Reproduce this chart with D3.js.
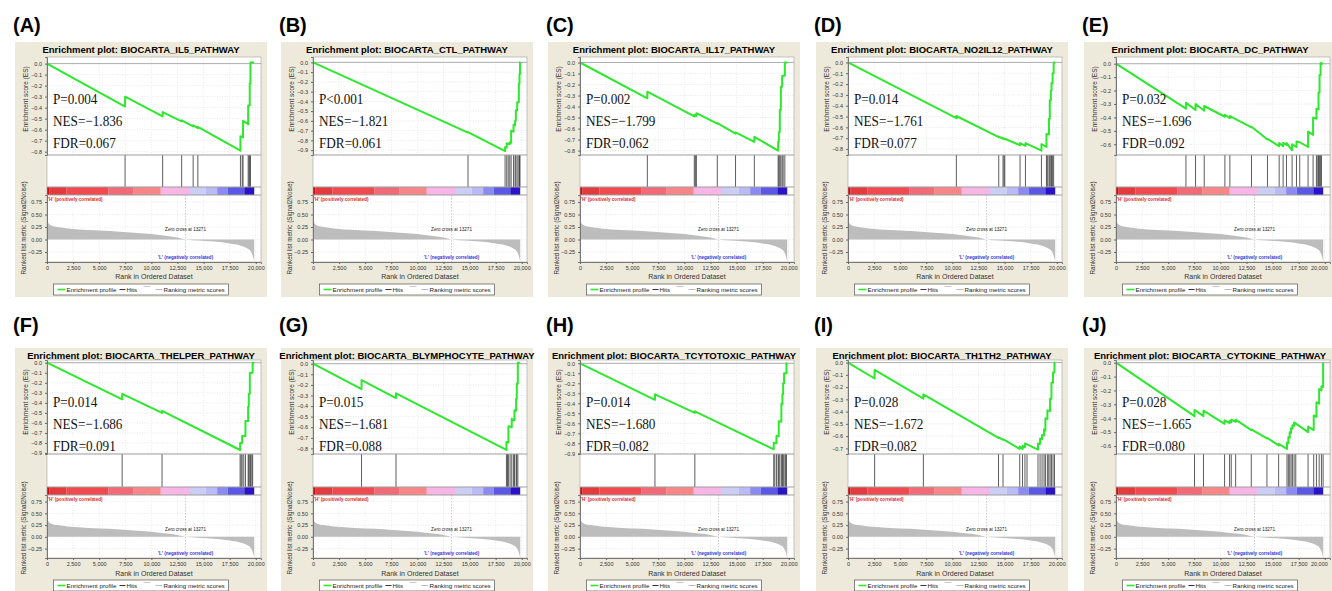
<!DOCTYPE html>
<html><head><meta charset="utf-8">
<script src="https://cdn.jsdelivr.net/npm/d3@7/dist/d3.min.js"></script>
<style>
body{margin:0;background:#fff;}
svg{display:block;font-family:Arial,"Liberation Sans",sans-serif;}
</style></head>
<body><svg id="chart" width="1332" height="591"></svg>
<script>
// ---- panel identity and statistics
const panelLetters = ["A","B","C","D","E","F","G","H","I","J"];
const pathwayNames = ["BIOCARTA_IL5_PATHWAY","BIOCARTA_CTL_PATHWAY","BIOCARTA_IL17_PATHWAY","BIOCARTA_NO2IL12_PATHWAY","BIOCARTA_DC_PATHWAY",
  "BIOCARTA_THELPER_PATHWAY","BIOCARTA_BLYMPHOCYTE_PATHWAY","BIOCARTA_TCYTOTOXIC_PATHWAY","BIOCARTA_TH1TH2_PATHWAY","BIOCARTA_CYTOKINE_PATHWAY"];
const pLabels = ["P=0.004","P<0.001","P=0.002","P=0.014","P=0.032","P=0.014","P=0.015","P=0.014","P=0.028","P=0.028"];
const nesValues = [-1.836,-1.821,-1.799,-1.761,-1.696,-1.686,-1.681,-1.680,-1.672,-1.665];
const fdrValues = [0.067,0.061,0.062,0.077,0.092,0.091,0.088,0.082,0.082,0.080];

// ES axis: lowest labelled tick and visible range per panel
const esMinTicks = [-0.8,-0.9,-0.8,-0.8,-0.6,-0.9,-0.8,-0.9,-0.7,-0.6];
const esDomains = [[-0.83,0.06],[-0.95,0.055],[-0.84,0.05],[-0.855,0.05],[-0.68,0.05],
  [-0.91,0.027],[-0.853,0.035],[-0.907,0.033],[-0.746,0.021],[-0.657,0.019]];

// ---- running enrichment score, [rank, ES]
const esCurveA = [[0,0],[7480,-0.39],[7480,-0.30],[11080,-0.48],[11080,-0.44],[12900,-0.525],[12900,-0.515],[14000,-0.57],[14000,-0.56],[14450,-0.585],[14450,-0.575],[18530,-0.79],[18530,-0.66],[18780,-0.67],[18780,-0.52],[19270,-0.55],[19270,-0.38],[19420,-0.38],[19420,-0.18],[19490,-0.18],[19490,0.01],[19850,0.01]];
const esCurveB = [[0,0],[14850,-0.72],[14850,-0.715],[18400,-0.91],[18400,-0.87],[18560,-0.875],[18560,-0.83],[18850,-0.84],[18850,-0.82],[18980,-0.825],[18980,-0.70],[19210,-0.71],[19210,-0.64],[19360,-0.645],[19360,-0.60],[19430,-0.60],[19430,-0.49],[19560,-0.49],[19560,-0.41],[19720,-0.41],[19720,-0.22],[19780,-0.22],[19780,-0.12],[19830,-0.12],[19830,0.0],[19850,0.0]];
const esCurveC = [[0,0],[6450,-0.325],[6450,-0.265],[10950,-0.49],[10950,-0.475],[11150,-0.485],[11150,-0.46],[13150,-0.555],[13150,-0.55],[14900,-0.645],[14900,-0.635],[16700,-0.72],[16700,-0.675],[18980,-0.80],[18980,-0.72],[19050,-0.72],[19050,-0.63],[19140,-0.63],[19140,-0.43],[19240,-0.43],[19240,-0.22],[19365,-0.22],[19365,-0.12],[19620,-0.12],[19620,0.0],[19850,0.0]];
const esCurveD = [[0,0],[10380,-0.515],[10380,-0.495],[14440,-0.69],[14440,-0.685],[14850,-0.705],[14850,-0.70],[15020,-0.71],[15020,-0.705],[16480,-0.765],[16480,-0.745],[17000,-0.77],[17000,-0.745],[18530,-0.815],[18530,-0.755],[19010,-0.78],[19010,-0.66],[19250,-0.665],[19250,-0.52],[19330,-0.52],[19330,-0.35],[19430,-0.35],[19430,-0.26],[19500,-0.26],[19500,-0.19],[19600,-0.19],[19600,-0.10],[19700,-0.10],[19700,0.0],[19850,0.0]];
const esCurveE = [[0,0],[6700,-0.335],[6700,-0.29],[7620,-0.345],[7620,-0.30],[8450,-0.35],[8450,-0.315],[10430,-0.395],[10430,-0.38],[10910,-0.405],[10910,-0.39],[12980,-0.475],[12980,-0.47],[14510,-0.565],[14510,-0.56],[15630,-0.615],[15630,-0.59],[16010,-0.615],[16010,-0.59],[16330,-0.605],[16330,-0.59],[16870,-0.645],[16870,-0.60],[17290,-0.62],[17290,-0.58],[17600,-0.585],[18400,-0.62],[18400,-0.505],[18880,-0.53],[18880,-0.40],[19200,-0.41],[19200,-0.335],[19400,-0.34],[19400,-0.215],[19500,-0.215],[19500,-0.085],[19600,-0.085],[19600,0.005],[19850,0.0]];
const esCurveF = [[0,0],[7200,-0.365],[7200,-0.31],[11020,-0.50],[11020,-0.48],[18500,-0.87],[18500,-0.80],[18690,-0.80],[18690,-0.73],[19010,-0.73],[19010,-0.58],[19270,-0.58],[19270,-0.44],[19330,-0.44],[19330,-0.31],[19430,-0.31],[19430,-0.10],[19700,-0.10],[19700,0.0],[19850,0.0]];
const esCurveG = [[0,0],[4650,-0.24],[4650,-0.155],[7950,-0.325],[7950,-0.28],[18530,-0.815],[18530,-0.74],[18720,-0.745],[18720,-0.59],[19040,-0.60],[19040,-0.52],[19200,-0.535],[19300,-0.535],[19300,-0.44],[19460,-0.445],[19460,-0.33],[19520,-0.33],[19520,-0.19],[19620,-0.19],[19620,0.01],[19850,0.01]];
const esCurveH = [[0,0],[7180,-0.365],[7180,-0.31],[11000,-0.495],[11000,-0.48],[18560,-0.86],[18560,-0.795],[18820,-0.80],[18820,-0.725],[19040,-0.73],[19040,-0.58],[19290,-0.585],[19290,-0.405],[19390,-0.41],[19390,-0.31],[19460,-0.31],[19460,-0.20],[19550,-0.20],[19550,-0.10],[19780,-0.10],[19780,0.0],[19850,0.0]];
const esCurveI = [[0,0],[2550,-0.13],[2550,-0.06],[7220,-0.295],[7220,-0.26],[14420,-0.615],[14420,-0.61],[14850,-0.63],[14850,-0.625],[16450,-0.705],[16450,-0.685],[16720,-0.705],[16720,-0.68],[16950,-0.69],[16950,-0.66],[18200,-0.71],[18200,-0.66],[18400,-0.665],[18400,-0.62],[18590,-0.625],[18590,-0.59],[18780,-0.595],[18780,-0.545],[18910,-0.555],[18910,-0.455],[19100,-0.46],[19100,-0.39],[19360,-0.395],[19360,-0.295],[19490,-0.295],[19490,-0.165],[19640,-0.165],[19640,-0.08],[19780,-0.08],[19780,0.0],[19850,0.0]];
const esCurveJ = [[0,0],[7520,-0.385],[7520,-0.34],[8380,-0.385],[8380,-0.345],[10400,-0.44],[10400,-0.415],[10880,-0.435],[10880,-0.42],[11040,-0.43],[11040,-0.41],[11460,-0.425],[11460,-0.41],[12960,-0.485],[12960,-0.48],[14460,-0.545],[14460,-0.54],[15580,-0.595],[15580,-0.585],[16380,-0.62],[16380,-0.575],[16510,-0.58],[16510,-0.535],[16640,-0.54],[16640,-0.50],[16770,-0.505],[16770,-0.47],[16900,-0.475],[16900,-0.45],[17060,-0.455],[17060,-0.43],[18400,-0.50],[18400,-0.46],[18940,-0.485],[18940,-0.38],[19200,-0.39],[19200,-0.285],[19460,-0.295],[19460,-0.19],[19680,-0.20],[19680,-0.17],[19840,-0.175],[19840,0.0]];

// ---- positions of gene-set members in the ranked list
const hitsA = [7480,11080,12900,14000,14450,18530,18700,18780,19270,19350,19420,19490];
const hitsB = [14850,18400,18560,18700,18850,18980,19210,19360,19430,19560,19720,19780,19830];
const hitsC = [6450,10950,11050,11150,13150,14900,16700,18980,19050,19140,19240,19365,19460,19620];
const hitsD = [10380,14440,14850,14950,15020,16480,17000,18530,19010,19100,19250,19330,19430,19500,19600,19700];
const hitsE = [6700,7620,8450,10430,10910,12980,14510,15630,16010,16330,16870,17290,17600,18400,18880,19200,19330,19400,19500,19600,19680];
const hitsF = [7200,11020,18500,18600,18690,18850,19010,19270,19330,19430,19500,19620,19700];
const hitsG = [4650,7950,18530,18630,18720,18880,19040,19200,19300,19460,19520,19620];
const hitsH = [7180,11000,18560,18660,18820,18980,19040,19140,19290,19390,19460,19550,19680,19780];
const hitsI = [2550,7220,14420,14850,16450,16720,16950,17150,18200,18400,18590,18780,18910,19100,19230,19360,19490,19640,19780];
const hitsJ = [7520,8380,10400,10880,11040,11460,12960,14460,15580,16380,16510,16640,16770,16900,17060,17220,18400,18940,19200,19460,19680,19840];

const esCurves = [esCurveA,esCurveB,esCurveC,esCurveD,esCurveE,esCurveF,esCurveG,esCurveH,esCurveI,esCurveJ];
const hitSets = [hitsA,hitsB,hitsC,hitsD,hitsE,hitsF,hitsG,hitsH,hitsI,hitsJ];

// ---- ranked list metric (same dataset in every panel)
const metricRanks  = [0,150,400,1000,2000,4000,6000,8000,10000,11500,12500,13271,14500,16000,17500,18500,19200,19500,19700,19850];
const metricValues = [0.40,0.32,0.28,0.25,0.22,0.19,0.17,0.14,0.11,0.07,0.04,0.0,-0.02,-0.04,-0.08,-0.12,-0.18,-0.23,-0.32,-0.44];
const zeroCross = 13271;

// heat bar under the hits
const colorBarBreaks = [0,250,1850,5900,8250,10900,13600,15200,16300,17300,18900,19850];
const colorBarColors = ["#cc0a0a","#e33a3d","#f14a4e","#f06a78","#f78686","#f8b6e6","#cccdf4","#babaf6","#8a8af0","#5a58e4","#2a12c6"];

const xTicks = [0,2500,5000,7500,10000,12500,15000,17500,20000];
const metricTicks = [0.75,0.5,0.25,0,-0.25];
const rankDomain = [0,20500];
const metricDomain = [-0.45,0.89];

// ---- layout
const colAxisX = [47,313,580,848,1116];
const rows = [
  {frameTop:42, frameH:255, labelY:32, titleY:52.5, esTop:57, esBottom:155, hitsBottom:187, barBottom:195, metricBottom:262, xTitleY:279, legendTop:284},
  {frameTop:348, frameH:260, labelY:332, titleY:359, esTop:360, esBottom:454, hitsBottom:487, barBottom:495, metricBottom:558, xTitleY:576, legendTop:580}
];
const plotW = 214;

const svg = d3.select("#chart");
svg.append("rect").attr("width",1332).attr("height",591).attr("fill","#fff");

function drawPanel(i){
  const row = rows[Math.floor(i/5)];
  const ax = colAxisX[i%5];
  const fx = ax-32, fw = 252;
  const g = svg.append("g");

  g.append("rect").attr("x",fx).attr("y",row.frameTop).attr("width",fw).attr("height",row.frameH).attr("fill","#eeeadb");
  g.append("text").attr("x",fx-2).attr("y",row.labelY).attr("font-size",20).attr("font-weight","bold")
    .text("("+panelLetters[i]+")");
  g.append("text").attr("x",fx+fw/2).attr("y",row.titleY).attr("text-anchor","middle")
    .attr("font-size",9.5).attr("font-weight","bold").text("Enrichment plot: "+pathwayNames[i]);

  const x = d3.scaleLinear().domain(rankDomain).range([ax,ax+plotW]);
  const y = d3.scaleLinear().domain(esDomains[i]).range([row.esBottom,row.esTop]);
  const ym = d3.scaleLinear().domain(metricDomain).range([row.metricBottom,row.barBottom]);

  g.append("rect").attr("x",ax).attr("y",row.esTop).attr("width",plotW).attr("height",row.metricBottom-row.esTop).attr("fill","#fff");

  // grid
  const esTicks = d3.range(0,esMinTicks[i]-0.05,-0.1);
  const grid = g.append("g").attr("stroke","#d4d4d4").attr("stroke-width",0.5).attr("stroke-dasharray","1,1.5");
  esTicks.forEach(t=>grid.append("line").attr("x1",ax).attr("x2",ax+plotW).attr("y1",y(t)).attr("y2",y(t)));
  xTicks.forEach(t=>grid.append("line").attr("x1",x(t)).attr("x2",x(t)).attr("y1",row.esTop).attr("y2",row.esBottom));
  metricTicks.forEach(t=>grid.append("line").attr("x1",ax).attr("x2",ax+plotW).attr("y1",ym(t)).attr("y2",ym(t)));
  xTicks.forEach(t=>grid.append("line").attr("x1",x(t)).attr("x2",x(t)).attr("y1",row.barBottom).attr("y2",row.metricBottom));

  // zero line
  g.append("line").attr("x1",ax).attr("x2",ax+plotW).attr("y1",y(0)).attr("y2",y(0)).attr("stroke","#9a9a9a").attr("stroke-width",0.8);

  // enrichment profile
  g.append("path").datum(esCurves[i])
    .attr("d",d3.line().x(d=>x(d[0])).y(d=>y(d[1])))
    .attr("fill","none").attr("stroke","#2ee82e").attr("stroke-width",2).attr("stroke-linejoin","round");

  // hits
  g.append("g").selectAll("line").data(hitSets[i]).join("line")
    .attr("x1",d=>x(d)).attr("x2",d=>x(d)).attr("y1",row.esBottom).attr("y2",row.hitsBottom)
    .attr("stroke","#333").attr("stroke-width",0.8);

  // heat bar
  g.append("g").selectAll("rect").data(colorBarColors).join("rect")
    .attr("x",(d,k)=>x(colorBarBreaks[k])).attr("width",(d,k)=>x(colorBarBreaks[k+1])-x(colorBarBreaks[k]))
    .attr("y",row.hitsBottom).attr("height",row.barBottom-row.hitsBottom).attr("fill",d=>d);

  // ranked list metric
  const metric = metricRanks.map((r,k)=>[r,metricValues[k]]);
  g.append("path").datum(metric)
    .attr("d",d3.area().x(d=>x(d[0])).y0(ym(0)).y1(d=>ym(d[1])).curve(d3.curveMonotoneX))
    .attr("fill","#bdbdbd");
  g.append("line").attr("x1",x(zeroCross)).attr("x2",x(zeroCross)).attr("y1",row.barBottom).attr("y2",row.metricBottom)
    .attr("stroke","#aaa").attr("stroke-width",0.6).attr("stroke-dasharray","1.5,1.5");

  g.append("text").attr("x",ax+1).attr("y",row.barBottom+5.5).attr("font-size",4.6).attr("font-weight","bold")
    .attr("fill","#e02828").text("'H' (positively correlated)");
  g.append("text").attr("x",x(zeroCross)).attr("y",row.metricBottom-3).attr("font-size",4.6).attr("font-weight","bold")
    .attr("text-anchor","middle").attr("fill","#3434d8").text("'L' (negatively correlated)");
  g.append("text").attr("x",x(zeroCross)).attr("y",row.barBottom+35.5).attr("font-size",4.6)
    .attr("text-anchor","middle").attr("fill","#222").text("Zero cross at "+zeroCross);

  // frames of the sub-plots
  [[row.esTop,row.esBottom],[row.esBottom,row.hitsBottom],[row.hitsBottom,row.barBottom],[row.barBottom,row.metricBottom]].forEach(s=>{
    g.append("rect").attr("x",ax).attr("y",s[0]).attr("width",plotW).attr("height",s[1]-s[0])
      .attr("fill","none").attr("stroke","#a0a0a0").attr("stroke-width",0.6);
  });

  // axes
  const styleAxis = a=>{
    a.selectAll("text").attr("font-size",5.5).attr("fill","#333");
    a.selectAll("line").attr("stroke","#666");
    a.select(".domain").attr("stroke","#777");
  };
  g.append("g").attr("transform","translate("+ax+",0)")
    .call(d3.axisLeft(y).tickValues(esTicks).tickFormat(d3.format(".1f")).tickSize(2).tickPadding(3))
    .call(styleAxis);
  g.append("g").attr("transform","translate("+ax+",0)")
    .call(d3.axisLeft(ym).tickValues(metricTicks).tickFormat(d3.format(".2f")).tickSize(2).tickPadding(3))
    .call(styleAxis);
  const xAxis = g.append("g").attr("transform","translate(0,"+row.metricBottom+")")
    .call(d3.axisBottom(x).tickValues(xTicks).tickFormat(d3.format(",")).tickSize(2).tickPadding(2.5))
    .call(styleAxis);
  // keep the last label inside the picture for the right-hand column
  if (ax+plotW > 1320) xAxis.selectAll(".tick:last-of-type text").attr("text-anchor","end").attr("dx","2.5");

  // axis titles
  g.append("text").attr("transform","translate("+(ax-19)+","+(row.esTop+42)+") rotate(-90)")
    .attr("text-anchor","middle").attr("font-size",6.5).attr("fill","#333").text("Enrichment score (ES)");
  g.append("text").attr("transform","translate("+(ax-21)+","+(row.barBottom+33)+") rotate(-90)")
    .attr("text-anchor","middle").attr("font-size",6.3).attr("fill","#333").text("Ranked list metric (Signal2Noise)");
  g.append("text").attr("x",ax+plotW/2).attr("y",row.xTitleY).attr("text-anchor","middle")
    .attr("font-size",7).attr("fill","#333").text("Rank in Ordered Dataset");

  // statistics (the figure's serif text is slightly condensed)
  const stats = [pLabels[i],"NES="+d3.format(".3f")(nesValues[i]),"FDR="+d3.format(".3f")(fdrValues[i])];
  g.append("g").selectAll("text").data(stats).join("text")
    .attr("transform",(d,k)=>"translate("+(ax+6)+","+(row.esTop+47+k*22)+") scale(0.88,1)")
    .attr("font-family","'Liberation Serif','Times New Roman',serif").attr("font-size",15).attr("fill","#111")
    .text(d=>d);

  // legend
  const lx = fx+fw/2-87.5, ly = row.legendTop, lc = ly+5.5;
  const lg = g.append("g").attr("font-size",6.2).attr("fill","#222");
  lg.append("rect").attr("x",lx).attr("y",ly).attr("width",175).attr("height",11).attr("fill","#fff").attr("stroke","#555").attr("stroke-width",0.7);
  lg.append("line").attr("x1",lx+4).attr("x2",lx+12).attr("y1",lc).attr("y2",lc).attr("stroke","#2ee82e").attr("stroke-width",1.6);
  lg.append("text").attr("x",lx+13).attr("y",lc+2.2).text("Enrichment profile");
  lg.append("line").attr("x1",lx+66).attr("x2",lx+72).attr("y1",lc).attr("y2",lc).attr("stroke","#333").attr("stroke-width",1);
  lg.append("text").attr("x",lx+73).attr("y",lc+2.2).text("Hits");
  lg.append("line").attr("x1",lx+90).attr("x2",lx+97).attr("y1",lc-3).attr("y2",lc-3).attr("stroke","#bbb").attr("stroke-width",0.8);
  lg.append("line").attr("x1",lx+102).attr("x2",lx+109).attr("y1",lc).attr("y2",lc).attr("stroke","#bbb").attr("stroke-width",1);
  lg.append("text").attr("x",lx+110).attr("y",lc+2.2).text("Ranking metric scores");
}

for(let i=0;i<10;i++) drawPanel(i);
</script>
</body></html>
